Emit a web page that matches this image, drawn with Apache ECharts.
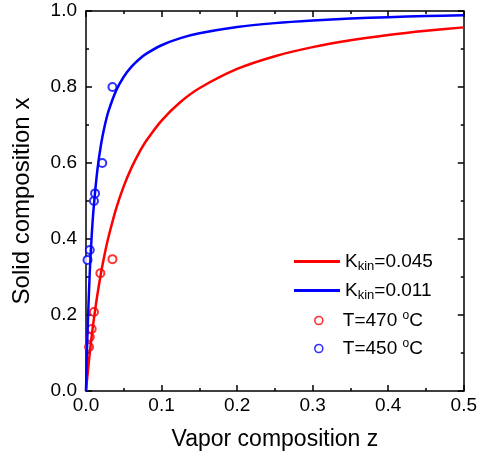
<!DOCTYPE html>
<html><head><meta charset="utf-8">
<script src="https://cdn.jsdelivr.net/npm/echarts@6/dist/echarts.min.js"></script>
<style>html,body{margin:0;padding:0;background:#fff}#c{width:480px;height:460px}</style>
</head><body><div id="c"></div>
<script>
// fitted model curves
const curveZ     = [0, 0.001, 0.002, 0.005, 0.0075, 0.01, 0.015, 0.02, 0.025, 0.03, 0.04, 0.05, 0.06, 0.07, 0.08, 0.1, 0.125, 0.15, 0.2, 0.25, 0.3, 0.35, 0.4, 0.45, 0.5];
const curveK045  = [0, 0.0218, 0.0426, 0.1005, 0.1438, 0.1833, 0.2528, 0.312, 0.363, 0.4073, 0.4808, 0.5391, 0.5865, 0.6259, 0.659, 0.7117, 0.7605, 0.7968, 0.8475, 0.8811, 0.905, 0.9229, 0.9368, 0.9479, 0.9569];
const curveK011  = [0, 0.0834, 0.1541, 0.3136, 0.4072, 0.4787, 0.5806, 0.6498, 0.6998, 0.7377, 0.7911, 0.8271, 0.853, 0.8725, 0.8877, 0.9099, 0.9285, 0.9413, 0.9579, 0.9681, 0.975, 0.98, 0.9838, 0.9867, 0.9891];
// experimental points
const expZ470 = [0.004, 0.005, 0.0075, 0.0105, 0.019, 0.035];
const expX470 = [0.116, 0.142, 0.163, 0.208, 0.31, 0.347];
const expZ450 = [0.002, 0.005, 0.0105, 0.012, 0.0215, 0.035];
const expX450 = [0.345, 0.371, 0.5, 0.52, 0.6, 0.80];
const legendLabels = {
  K045: 'K{sub|kin}=0.045',
  K011: 'K{sub|kin}=0.011',
  T470: 'T=470 {sup|o}C',
  T450: 'T=450 {sup|o}C'
};

const FONT = "'Liberation Sans', Arial, sans-serif";
const RED = '#ff0000', BLUE = '#0000ff';
const zip = (a, b) => a.map((v, i) => [v, b[i]]);

const chart = echarts.init(document.getElementById('c'));
const axisLine = { show: true, onZero: false, lineStyle: { color: '#000', width: 1.5 } };
const tick = { inside: true, length: 6, lineStyle: { color: '#000', width: 1.5 } };
const minor = { show: true, splitNumber: 2, length: 3, lineStyle: { color: '#000', width: 1.5 } };
const richLeg = {
  sub: { fontSize: 13, padding: [10, 0, 0, 0], fontFamily: FONT, color: '#000' },
  sup: { fontSize: 12, padding: [0, 0, 9, 0], fontFamily: FONT, color: '#000' }
};
function leg(name, left, top, icon, w, h, color) {
  const item = { name, icon };
  if (color) item.itemStyle = { color: '#fff', borderColor: color, borderWidth: 1.6 };
  return {
    data: [item], left, top, padding: 0,
    itemWidth: w, itemHeight: h, itemGap: 0,
    formatter: n => legendLabels[n],
    textStyle: { fontFamily: FONT, fontSize: 19, color: '#000', rich: richLeg }
  };
}
chart.setOption({
  animation: false,
  backgroundColor: '#fff',
  grid: { left: 86, right: 15, top: 11, bottom: 69 },
  xAxis: [{
    type: 'value', min: 0, max: 0.5, interval: 0.1,
    name: 'Vapor composition z', nameLocation: 'middle', nameGap: 37,
    nameTextStyle: { fontFamily: FONT, fontSize: 23, color: '#000' },
    axisLine, axisTick: tick, minorTick: minor, splitLine: { show: false },
    axisLabel: { fontFamily: FONT, fontSize: 19, color: '#000', margin: 5, formatter: v => v.toFixed(1) }
  }, {
    type: 'value', min: 0, max: 0.5, interval: 0.1, position: 'top',
    axisLine, axisTick: tick, minorTick: minor, splitLine: { show: false }, axisLabel: { show: false }
  }],
  yAxis: [{
    type: 'value', min: 0, max: 1, interval: 0.2,
    name: 'Solid composition x', nameLocation: 'middle', nameGap: 52,
    nameTextStyle: { fontFamily: FONT, fontSize: 24, color: '#000' },
    axisLine, axisTick: tick, minorTick: minor, splitLine: { show: false },
    axisLabel: { fontFamily: FONT, fontSize: 19, color: '#000', margin: 9, formatter: v => v.toFixed(1) }
  }, {
    type: 'value', min: 0, max: 1, interval: 0.2, position: 'right',
    axisLine, axisTick: tick, minorTick: minor, splitLine: { show: false }, axisLabel: { show: false }
  }],
  legend: [
    leg('K045', 294, 252, 'rect', 46, 3),
    leg('K011', 294, 281, 'rect', 46, 3),
    leg('T470', 314, 310, 'circle', 38, 8, RED),
    leg('T450', 314, 338, 'circle', 38, 8, BLUE)
  ],
  series: [{
    name: 'K045', type: 'line', data: zip(curveZ, curveK045), smooth: 0.3, showSymbol: false, symbol: 'none',
    lineStyle: { color: RED, width: 2.5 }, itemStyle: { color: RED }
  }, {
    name: 'K011', type: 'line', data: zip(curveZ, curveK011), smooth: 0.3, showSymbol: false, symbol: 'none',
    lineStyle: { color: BLUE, width: 2.5 }, itemStyle: { color: BLUE }
  }, {
    name: 'T470', type: 'scatter', data: zip(expZ470, expX470), symbol: 'emptyCircle', symbolSize: 8,
    itemStyle: { color: RED, borderColor: RED, borderWidth: 1.6 }
  }, {
    name: 'T450', type: 'scatter', data: zip(expZ450, expX450), symbol: 'emptyCircle', symbolSize: 8,
    itemStyle: { color: BLUE, borderColor: BLUE, borderWidth: 1.6 }
  }, {
    name: 'frame', type: 'line', xAxisIndex: 1, yAxisIndex: 1, data: [], silent: true
  }]
});
</script></body></html>
